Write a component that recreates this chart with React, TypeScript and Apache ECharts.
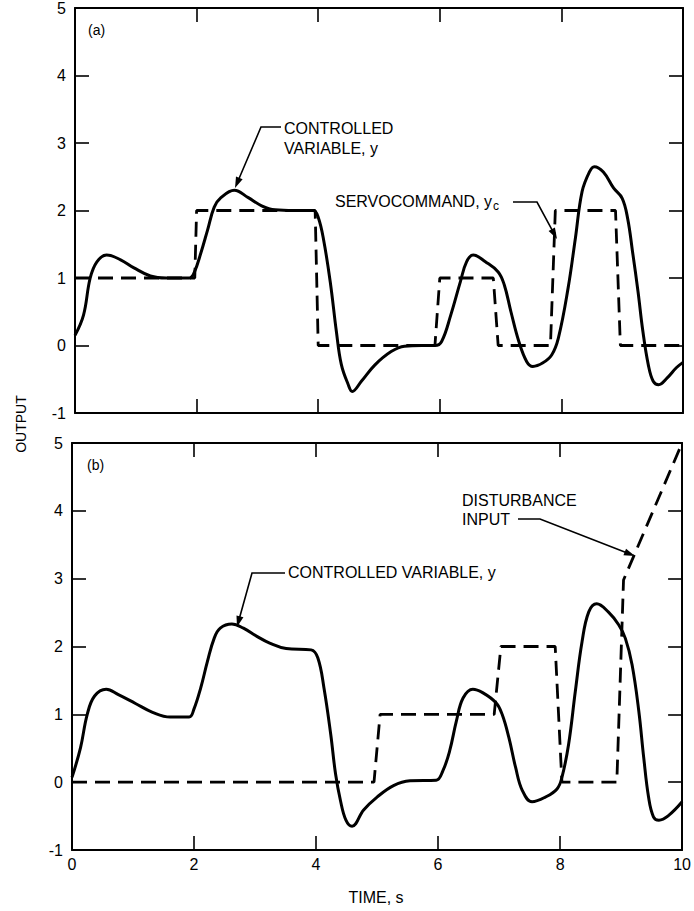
import React, { useEffect, useRef } from "react";
import * as echarts from "echarts";

// ---------- data ----------
const timeTicks = [0, 2, 4, 6, 8, 10];
const outputTicks = [-1, 0, 1, 2, 3, 4, 5];

// (a) controlled variable y
const tA = [0, 0.14, 0.25, 0.36, 0.52, 0.75, 0.97, 1.24, 1.5, 1.88, 1.96, 2.07, 2.18, 2.29, 2.4, 2.62, 2.85, 3.07, 3.29, 3.6, 3.92, 4.0, 4.09, 4.2, 4.3, 4.38, 4.49, 4.56, 4.71, 4.93, 5.2, 5.42, 5.7, 5.92, 6.03, 6.18, 6.34, 6.44, 6.55, 6.75, 6.96, 7.06, 7.17, 7.3, 7.43, 7.53, 7.69, 7.84, 7.95, 8.11, 8.23, 8.34, 8.46, 8.54, 8.69, 8.86, 9.0, 9.09, 9.17, 9.26, 9.34, 9.43, 9.51, 9.6, 9.74, 9.89, 10];
const yA = [0.15, 0.45, 1.0, 1.24, 1.34, 1.27, 1.15, 1.03, 1.0, 1.0, 1.08, 1.37, 1.71, 2.05, 2.19, 2.3, 2.19, 2.07, 2.01, 2.0, 2.0, 1.9, 1.56, 0.93, 0.2, -0.28, -0.57, -0.68, -0.53, -0.29, -0.09, -0.01, 0, 0, 0.06, 0.45, 0.95, 1.24, 1.34, 1.24, 1.09, 0.9, 0.5, 0.06, -0.24, -0.31, -0.26, -0.14, 0.11, 0.85, 1.59, 2.28, 2.57, 2.65, 2.57, 2.33, 2.18, 1.88, 1.39, 0.8, 0.21, -0.29, -0.53, -0.58, -0.48, -0.33, -0.25];

// (a) servocommand y_c
const tCmd = [0, 1.97, 2.0, 3.95, 4.0, 5.92, 6.0, 6.88, 6.96, 7.82, 7.9, 8.89, 8.97, 10];
const yCmd = [1, 1, 2, 2, 0, 0, 1, 1, 0, 0, 2, 2, 0, 0];

// (b) controlled variable y
const tB = [0, 0.14, 0.25, 0.37, 0.56, 0.76, 1.04, 1.32, 1.61, 1.92, 2.0, 2.11, 2.22, 2.33, 2.43, 2.62, 2.81, 3.03, 3.24, 3.51, 3.92, 4.03, 4.13, 4.24, 4.32, 4.4, 4.49, 4.59, 4.78, 5.0, 5.27, 5.54, 5.97, 6.08, 6.19, 6.3, 6.41, 6.57, 6.73, 6.95, 7.05, 7.16, 7.27, 7.38, 7.54, 7.76, 7.95, 8.03, 8.14, 8.25, 8.36, 8.47, 8.6, 8.79, 8.96, 9.07, 9.18, 9.29, 9.37, 9.45, 9.53, 9.62, 9.78, 10];
const yB = [0.07, 0.51, 1.0, 1.27, 1.37, 1.29, 1.16, 1.03, 0.96, 0.96, 1.08, 1.39, 1.78, 2.12, 2.27, 2.33, 2.27, 2.15, 2.05, 1.97, 1.95, 1.83, 1.39, 0.71, 0.12, -0.27, -0.56, -0.65, -0.41, -0.22, -0.05, 0.02, 0.03, 0.17, 0.46, 0.9, 1.24, 1.37, 1.32, 1.17, 1.0, 0.66, 0.22, -0.12, -0.29, -0.22, -0.1, 0.07, 0.56, 1.34, 2.07, 2.51, 2.63, 2.51, 2.32, 2.12, 1.73, 1.05, 0.37, -0.22, -0.51, -0.56, -0.49, -0.29];

// (b) disturbance input
const tDist = [0, 4.95, 5.05, 6.92, 7.03, 7.92, 8.03, 8.93, 9.04, 10];
const yDist = [0, 0, 1, 1, 2, 2, 0, 0, 2.98, 5];

// ---------- helpers ----------
const FONT = '"Liberation Sans", Arial, Helvetica, sans-serif';
const pairs = (t: number[], y: number[]) => t.map((v, i) => [v, y[i]]);

function measure(text: string, size: number) {
  const c = document.createElement("canvas").getContext("2d");
  if (!c) return text.length * size * 0.6;
  c.font = `${size}px ${FONT}`;
  return c.measureText(text).width;
}

function leader(points: number[][], len = 11, half = 3.6) {
  const n = points.length;
  const [x1, y1] = points[n - 2];
  const [x2, y2] = points[n - 1];
  const dx = x2 - x1, dy = y2 - y1;
  const L = Math.hypot(dx, dy);
  const ux = dx / L, uy = dy / L;
  const bx = x2 - ux * len, by = y2 - uy * len;
  const linePts = points.slice(0, n - 1).concat([[x2 - ux * (len - 2), y2 - uy * (len - 2)]]);
  return [
    { type: "polyline", silent: true, shape: { points: linePts }, style: { stroke: "#000", lineWidth: 1.6, fill: null } },
    {
      type: "polygon",
      silent: true,
      shape: { points: [[x2, y2], [bx - uy * half, by + ux * half], [bx + uy * half, by - ux * half]] },
      style: { fill: "#000" },
    },
  ];
}

const txt = (text: string, x: number, y: number, size = 16) => ({
  type: "text",
  silent: true,
  x,
  y,
  style: { text, fill: "#000", font: `${size}px ${FONT}`, verticalAlign: "middle" },
});

const xAx = (gi: number, pos: string, labels: boolean) => ({
  gridIndex: gi,
  type: "value",
  position: pos,
  min: timeTicks[0],
  max: timeTicks[timeTicks.length - 1],
  interval: timeTicks[1] - timeTicks[0],
  axisLine: { show: true, onZero: false, lineStyle: { color: "#000", width: 2 } },
  axisTick: { show: true, inside: true, length: 14, lineStyle: { color: "#000", width: 1.6 } },
  axisLabel: { show: labels, color: "#000", fontSize: 16, fontFamily: FONT, margin: 6 },
  splitLine: { show: false },
});

const yAx = (gi: number, pos: string, labels: boolean) => ({
  gridIndex: gi,
  type: "value",
  position: pos,
  min: outputTicks[0],
  max: outputTicks[outputTicks.length - 1],
  interval: outputTicks[1] - outputTicks[0],
  axisLine: { show: true, onZero: false, lineStyle: { color: "#000", width: 2 } },
  axisTick: { show: true, inside: true, length: 14, lineStyle: { color: "#000", width: 1.6 } },
  axisLabel: { show: labels, color: "#000", fontSize: 16, fontFamily: FONT, margin: 9 },
  splitLine: { show: false },
});

const solid = (xi: number, yi: number, data: number[][]) => ({
  type: "line",
  xAxisIndex: xi,
  yAxisIndex: yi,
  data,
  symbol: "none",
  smooth: 0.4,
  lineStyle: { color: "#000", width: 3 },
  silent: true,
});

const dashed = (xi: number, yi: number, data: number[][]) => ({
  type: "line",
  xAxisIndex: xi,
  yAxisIndex: yi,
  data,
  symbol: "none",
  lineStyle: { color: "#000", width: 2.8, type: [15, 8] },
  silent: true,
});

export default function App() {
  const ref = useRef<HTMLDivElement>(null);
  useEffect(() => {
    if (!ref.current) return;
    document.body.style.margin = "0";
    const chart = echarts.init(ref.current, undefined, { renderer: "svg" });

    const servoText = "SERVOCOMMAND, y";
    const servoW = measure(servoText, 16);

    const graphic: any[] = [
      txt("(a)", 88, 30, 14),
      txt("CONTROLLED", 284, 128),
      txt("VARIABLE, y", 284, 148),
      ...leader([[281, 127], [261, 127], [235, 188]]),
      txt(servoText, 335, 201),
      txt("c", 335 + servoW + 1, 206, 12),
      ...leader([[513, 202], [537, 202], [557, 239]]),
      txt("(b)", 87, 465, 14),
      txt("CONTROLLED VARIABLE, y", 288, 572),
      ...leader([[285, 573], [252, 573], [237, 627]]),
      txt("DISTURBANCE", 462, 500),
      txt("INPUT", 462, 519),
      ...leader([[518, 519], [540, 519], [635, 556]]),
      {
        type: "text",
        silent: true,
        x: 21,
        y: 424,
        rotation: Math.PI / 2,
        style: { text: "OUTPUT", fill: "#000", font: `14px ${FONT}`, align: "center", verticalAlign: "middle" },
      },
      {
        type: "text",
        silent: true,
        x: 376,
        y: 897,
        style: { text: "TIME, s", fill: "#000", font: `16px ${FONT}`, align: "center", verticalAlign: "middle" },
      },
    ];

    chart.setOption({
      animation: false,
      backgroundColor: "#fff",
      textStyle: { fontFamily: FONT },
      grid: [
        { left: 75, top: 5, width: 608, height: 408 },
        { left: 72, top: 443, width: 611, height: 407 },
      ],
      xAxis: [xAx(0, "bottom", false), xAx(0, "top", false), xAx(1, "bottom", true), xAx(1, "top", false)],
      yAxis: [yAx(0, "left", true), yAx(0, "right", false), yAx(1, "left", true), yAx(1, "right", false)],
      series: [
        dashed(0, 0, pairs(tCmd, yCmd)),
        solid(0, 0, pairs(tA, yA)),
        dashed(2, 2, pairs(tDist, yDist)),
        solid(2, 2, pairs(tB, yB)),
      ],
      graphic,
    });
    return () => chart.dispose();
  }, []);
  return <div ref={ref} style={{ position: "fixed", left: 0, top: 0, width: 694, height: 911 }} />;
}
